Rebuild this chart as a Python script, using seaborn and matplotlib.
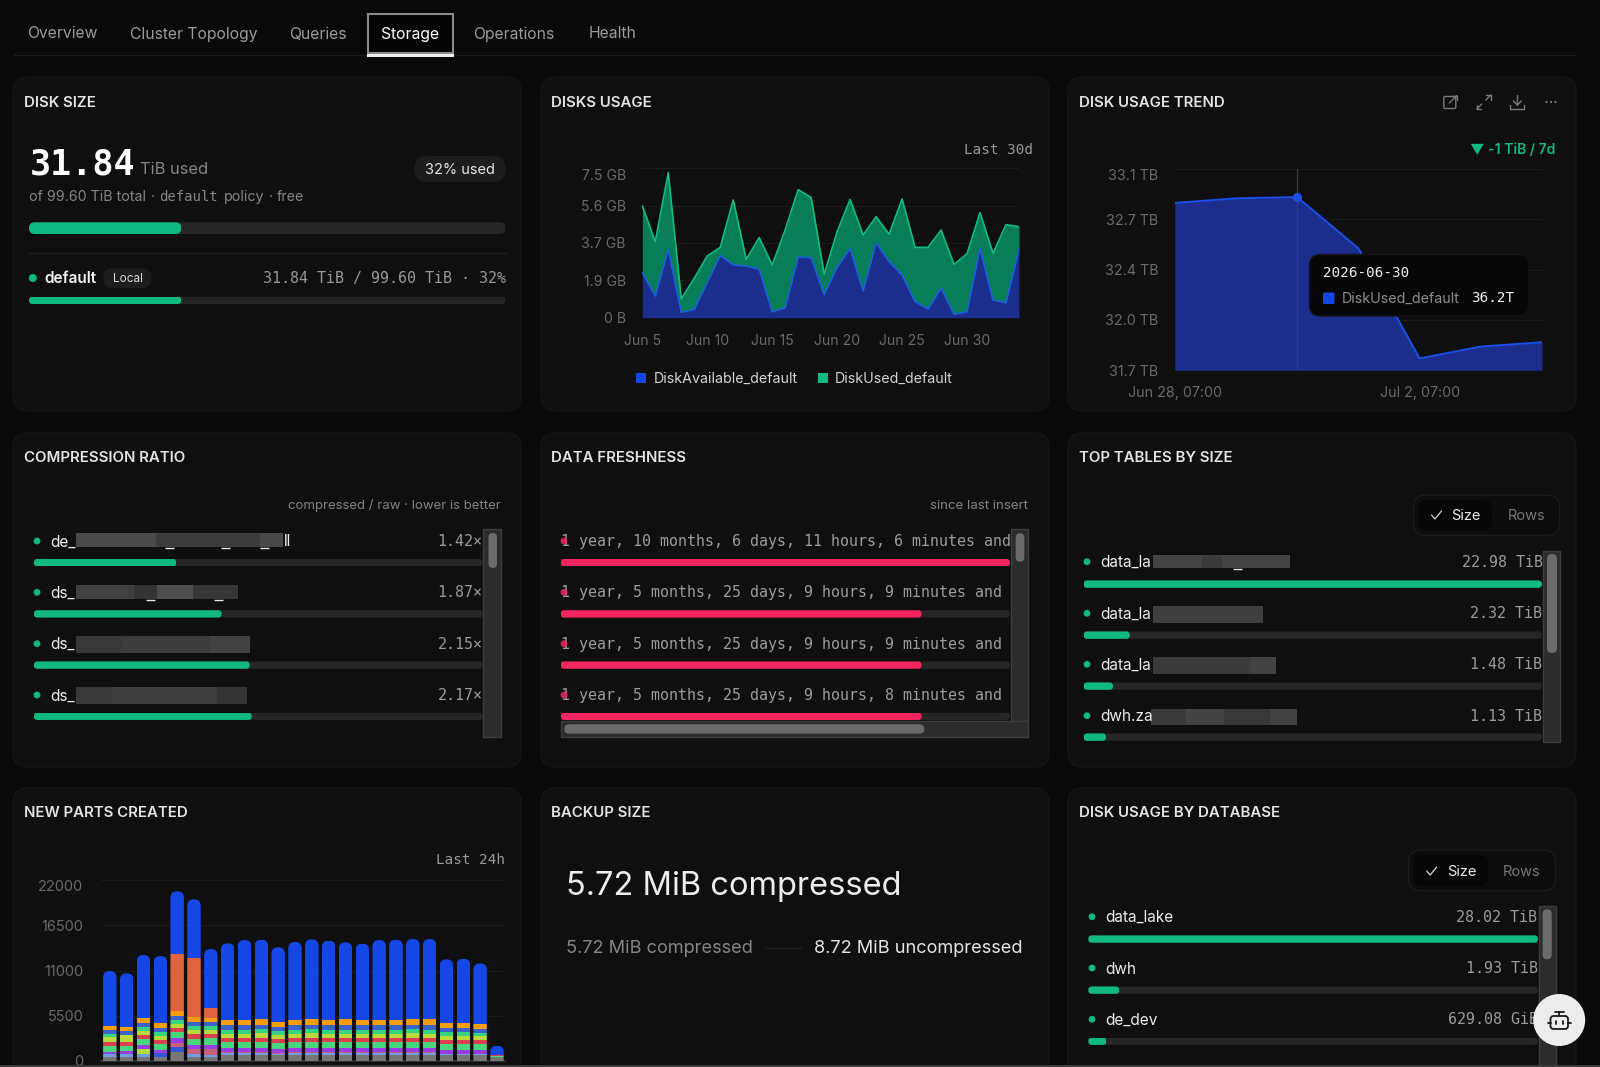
import matplotlib
matplotlib.use("Agg")
import matplotlib.pyplot as plt
from matplotlib.patches import FancyBboxPatch, Rectangle, Circle, Patch
from matplotlib.transforms import IdentityTransform, ScaledTranslation
import pandas as pd
import seaborn as sns

# ---------- data ----------
tabs = ["Overview", "Cluster Topology", "Queries", "Storage", "Operations", "Health"]

disk_available = [2.26, 1.09, 3.43, 0.27, 0.42, 1.77, 3.13, 2.65, 2.59, 2.44, 0.30, 0.50, 3.05, 3.01, 1.16,
                  2.53, 3.47, 1.34, 3.77, 2.81, 2.14, 0.80, 0.44, 1.49, 0.17, 0.30, 3.48, 0.89, 0.75, 3.43]
disk_used = [3.35, 2.73, 3.85, 0.67, 1.56, 1.33, 0.40, 3.26, 0.34, 1.58, 2.35, 3.90, 3.38, 3.02, 1.02,
             1.79, 2.47, 2.81, 1.30, 1.38, 3.82, 2.73, 3.09, 2.91, 2.51, 2.91, 1.79, 2.34, 3.92, 1.14]
usage_ticks = [0, 1.875, 3.75, 5.625, 7.5]
usage_ticklabels = ["0 B", "1.9 GB", "3.7 GB", "5.6 GB", "7.5 GB"]
usage_xlabels = ["Jun 5", "Jun 10", "Jun 15", "Jun 20", "Jun 25", "Jun 30"]

trend_tb = [32.864, 32.896, 32.905, 32.548, 31.783, 31.865, 31.895]
trend_ticks = [31.7, 32.05, 32.4, 32.75, 33.1]
trend_ticklabels = ["31.7 TB", "32.0 TB", "32.4 TB", "32.7 TB", "33.1 TB"]

disk_used_tib, disk_total_tib = 31.84, 99.60

compression_ratio = [1.42, 1.87, 2.15, 2.17]
compression_labels = ["1.42×", "1.87×", "2.15×", "2.17×"]
compression_names = ["de_", "ds_", "ds_", "ds_"]

freshness_days = [676, 543, 543, 543]
freshness_labels = ["1 year, 10 months, 6 days, 11 hours, 6 minutes and",
                    "1 year, 5 months, 25 days, 9 hours, 9 minutes and",
                    "1 year, 5 months, 25 days, 9 hours, 9 minutes and",
                    "1 year, 5 months, 25 days, 9 hours, 8 minutes and"]

table_tib = [22.98, 2.32, 1.48, 1.13]
table_labels = ["22.98 TiB", "2.32 TiB", "1.48 TiB", "1.13 TiB"]
table_names = ["data_la", "data_la", "data_la", "dwh.za"]

db_tib = [28.02, 1.93, 1.13]
db_labels = ["28.02 TiB", "1.93 TiB", "629.08 GiB"]
db_names = ["data_lake", "dwh", "de_dev"]

hours = [f"{h:02d}" for h in range(24)]
parts_gray = [490, 490, 490, 490, 1050, 490, 490, 730, 730, 730, 700, 730, 730, 730, 730, 730, 730, 730, 730, 730, 650, 650, 650, 410]
parts_light = [330, 330, 330, 0, 0, 360, 160, 160, 160, 160, 160, 160, 160, 160, 160, 160, 160, 160, 160, 160, 120, 120, 120, 0]
parts_mid = [0, 0, 0, 450, 650, 0, 0, 0, 0, 0, 0, 0, 0, 0, 0, 0, 0, 0, 0, 0, 0, 0, 0, 0]
parts_pink = [0, 0, 0, 0, 410, 610, 730, 120, 120, 120, 120, 120, 120, 120, 120, 120, 120, 120, 120, 120, 80, 80, 80, 0]
parts_lime = [0, 0, 610, 0, 0, 0, 0, 0, 0, 0, 0, 0, 0, 0, 0, 0, 0, 0, 0, 0, 0, 0, 0, 0]
parts_violet = [280, 410, 530, 370, 610, 410, 530, 530, 530, 570, 490, 530, 570, 530, 530, 530, 530, 530, 570, 530, 490, 490, 490, 0]
parts_green_a = [730, 610, 690, 730, 730, 810, 810, 730, 730, 730, 690, 730, 730, 730, 730, 730, 730, 730, 730, 730, 690, 690, 650, 160]
parts_red = [490, 410, 530, 490, 490, 530, 530, 490, 490, 490, 490, 490, 490, 490, 490, 490, 490, 490, 490, 490, 490, 490, 490, 80]
parts_yellow = [570, 940, 490, 450, 530, 490, 490, 530, 530, 530, 530, 530, 530, 530, 530, 530, 530, 530, 530, 530, 490, 530, 490, 0]
parts_green_b = [330, 0, 490, 490, 490, 530, 530, 490, 490, 490, 490, 490, 490, 490, 490, 490, 490, 490, 490, 490, 450, 450, 450, 0]
parts_slate = [490, 490, 450, 530, 530, 490, 450, 530, 530, 530, 490, 530, 530, 530, 530, 530, 530, 530, 530, 530, 490, 490, 490, 0]
parts_orange = [530, 450, 610, 610, 570, 570, 530, 650, 650, 690, 610, 650, 690, 690, 730, 690, 690, 690, 730, 730, 610, 610, 570, 0]
parts_salmon = [0, 0, 0, 0, 6910, 7280, 1140, 0, 0, 0, 0, 0, 0, 0, 0, 0, 0, 0, 0, 0, 0, 0, 0, 0]
parts_blue = [6700, 6525, 7670, 8160, 7690, 7110, 7230, 9350, 9760, 9720, 9060, 9520, 9760, 9640, 9400, 9280, 9720, 9760, 9760, 9800, 7800, 7840, 7390, 1180]
parts_ticks = [0, 5500, 11000, 16500, 22000]
parts_series = [
    (parts_gray, "#767676"), (parts_light, "#6f9fe0"), (parts_mid, "#3557d6"), (parts_pink, "#c9607c"),
    (parts_lime, "#b5dc3c"), (parts_violet, "#9a3de2"), (parts_green_a, "#49d67c"), (parts_red, "#dc3f52"),
    (parts_yellow, "#b9da3c"), (parts_green_b, "#35d481"), (parts_slate, "#3b63c9"), (parts_orange, "#f59e0b"),
    (parts_salmon, "#e0633f"), (parts_blue, "#1447e6"),
]

# ---------- style ----------
W, H = 1600, 1067
PAGE, CARD, EDGE = "#09090a", "#0f0f10", "#151516"
GREEN, RED_BAR, TRACK = "#0fb981", "#f4255e", "#262626"
AXIS, GRID = "#6a6a6a", "#1b1b1b"
MONO = "DejaVu Sans Mono"

sns.set_theme(style="dark", rc={"axes.facecolor": "none", "figure.facecolor": PAGE})
plt.rcParams["font.family"] = ["Inter", "DejaVu Sans"]

fig = plt.figure(figsize=(16, 10.67), dpi=100, facecolor=PAGE)


def px(v):
    return v * 0.72


def axes_px(x0, y0, x1, y1, z=1):
    a = fig.add_axes([x0 / W, 1 - y1 / H, (x1 - x0) / W, (y1 - y0) / H], zorder=z)
    a.patch.set_alpha(0)
    return a


def overlay(z):
    a = fig.add_axes([0, 0, 1, 1], zorder=z)
    a.set_xlim(0, W)
    a.set_ylim(H, 0)
    a.axis("off")
    return a


bg = overlay(0)
fg = overlay(5)


def rrect(ax, x0, y0, x1, y1, r, fc, ec="none", lw=0, z=2):
    ax.add_patch(FancyBboxPatch((x0, y0), x1 - x0, y1 - y0, boxstyle=f"round,pad=0,rounding_size={r}",
                                fc=fc, ec=ec, lw=lw, zorder=z))


def txt(ax, x, y, s, size=14, color="#e6e6e6", ha="left", va="center", family=None, weight="normal", z=6):
    kw = {"family": family} if family else {}
    return ax.text(x, y + 1, s, fontsize=px(size), color=color, ha=ha, va=va, fontweight=weight, zorder=z, **kw)


def round_clip(patch, r):
    bb = patch.get_window_extent()
    clip = FancyBboxPatch((bb.x0, bb.y0), bb.width, bb.height, boxstyle=f"round,pad=0,rounding_size={r}",
                          transform=IdentityTransform())
    patch.set_clip_path(clip)


def bar_list(x0, x1, centers, height, values, vmax, color):
    step = centers[1] - centers[0]
    n = len(values)
    ax = axes_px(x0, centers[0] - step / 2, x1, centers[-1] + step / 2, z=2)
    sns.barplot(x=[vmax] * n, y=list(range(n)), orient="h", color=TRACK, saturation=1, width=height / step,
                errorbar=None, linewidth=0, ax=ax)
    sns.barplot(x=values, y=list(range(n)), orient="h", color=color, saturation=1, width=height / step,
                errorbar=None, linewidth=0, ax=ax)
    ax.set_xlim(0, vmax)
    ax.set_ylim(n - 0.5, -0.5)
    ax.axis("off")
    for p in ax.patches:
        round_clip(p, height / 2)
    return ax


def single_bar(x0, y0, x1, y1, value, vmax, color):
    ax = axes_px(x0, y0, x1, y1, z=2)
    sns.barplot(x=[vmax], y=[0], orient="h", color=TRACK, saturation=1, width=1, errorbar=None, linewidth=0, ax=ax)
    sns.barplot(x=[value], y=[0], orient="h", color=color, saturation=1, width=1, errorbar=None, linewidth=0, ax=ax)
    ax.set_xlim(0, vmax)
    ax.set_ylim(0.5, -0.5)
    ax.axis("off")
    for p in ax.patches:
        round_clip(p, (y1 - y0) / 2)
    return ax


def scrollbar(x0, y0, x1, y1):
    fg.add_patch(Rectangle((x0, y0), x1 - x0, y1 - y0, fc="#2c2c2c", ec="#3d3d3d", lw=1, zorder=3))


def thumb(x0, y0, x1, y1):
    r = min(x1 - x0, y1 - y0) / 2
    rrect(fg, x0, y0, x1, y1, r, "#6b6b6b", z=4)


def blur(pieces, y0, y1):
    for a, b, c in pieces:
        fg.add_patch(Rectangle((a, y0), b - a, y1 - y0, fc=c, ec="none", zorder=3))


def dash(x0, x1, y):
    fg.plot([x0, x1], [y, y], color="#e6e6e6", lw=1, zorder=4, solid_capstyle="butt")


# ---------- page chrome ----------
tab_x = [27.5, 130.5, 289.5, 381, 473, 589]
for name, x in zip(tabs, tab_x):
    txt(bg, x, 33, name, size=15.7, color="#ffffff" if name == "Storage" else "#9b9b9b", weight="normal")
bg.plot([13.5, 1576], [55, 55], color="#1d1d1d", lw=1)
bg.add_patch(Rectangle((368, 14), 85, 38.5, fc="#050505", ec="#8a8a8a", lw=1.5, zorder=1))
bg.add_patch(Rectangle((367, 54), 87, 3, fc="#f0f0f0", ec="none", zorder=3))

card_x = [(13, 521), (541, 1049), (1068, 1576)]
card_y = [(77, 411), (433, 767), (788, 1100)]
for (y0, y1) in card_y:
    for (x0, x1) in card_x:
        rrect(bg, x0, y0, x1, y1, 15, CARD, ec=EDGE, lw=1, z=0)

titles = [["DISK SIZE", "DISKS USAGE", "DISK USAGE TREND"],
          ["COMPRESSION RATIO", "DATA FRESHNESS", "TOP TABLES BY SIZE"],
          ["NEW PARTS CREATED", "BACKUP SIZE", "DISK USAGE BY DATABASE"]]
title_x = [24.3, 551.2, 1079]
title_y = [102, 457, 812]
for row, ty in zip(titles, title_y):
    for t, tx in zip(row, title_x):
        txt(bg, tx, ty, t, size=15, color="#e4e4e4", weight="semibold")

# ---------- disk size ----------
bg.text(29.5, 174.5, "31.84", fontsize=px(35), family=MONO, fontweight="bold", color="#ffffff", va="baseline", zorder=6)
bg.text(140.5, 174.5, "TiB used", fontsize=px(16.5), color="#858585", va="baseline", zorder=6)
rrect(bg, 414.5, 156, 505.5, 182, 13, "#1d1d1d")
txt(bg, 460, 169, "32% used", size=14.6, ha="center", color="#e4e4e4")
txt(bg, 29, 196, "of 99.60 TiB total", size=14.3, color="#858585")
txt(bg, 150.5, 196, "·", size=14, color="#858585")
txt(bg, 159.5, 196, "default", size=14, color="#858585", family=MONO)
txt(bg, 223.5, 196, "policy", size=14.3, color="#858585")
txt(bg, 268.5, 196, "·", size=14, color="#858585")
txt(bg, 276.5, 196, "free", size=14.3, color="#858585")
single_bar(29, 222.3, 505.5, 234, disk_used_tib, disk_total_tib, GREEN)
bg.plot([29, 506], [253.3, 253.3], color="#222222", lw=1)
bg.add_patch(Circle((32.8, 278), 4, fc=GREEN, ec="none", zorder=3))
txt(bg, 44.4, 277.5, "default", size=15.4, color="#f0f0f0", weight="semibold")
rrect(bg, 103.5, 268.3, 151.5, 288, 9, "#1d1d1d")
txt(bg, 127.5, 277.5, "Local", size=11.8, ha="center", color="#d8d8d8")
txt(bg, 506, 277.5, "31.84 TiB / 99.60 TiB · 32%", size=15, ha="right", color="#9a9a9a", family=MONO)
single_bar(29, 296.7, 505.5, 304, disk_used_tib, disk_total_tib, GREEN)

# ---------- disks usage ----------
ax_u = axes_px(642.3, 168.3, 1019, 317.7)
usage_days = pd.date_range("2026-06-05", periods=len(disk_used))
usage_total = [a + b for a, b in zip(disk_available, disk_used)]
ax_u.fill_between(usage_days, 0, disk_available, color="#1b2e8e", lw=0, zorder=2)
ax_u.fill_between(usage_days, disk_available, usage_total, color="#077d58", lw=0, zorder=2)
sns.lineplot(x=usage_days, y=disk_available, color="#1d5fe0", lw=1.2, errorbar=None, ax=ax_u, zorder=3)
sns.lineplot(x=usage_days, y=usage_total, color="#12bd85", lw=1.2, errorbar=None, ax=ax_u, zorder=4)
ax_u.set_xlim(usage_days[0], usage_days[-1])
ax_u.set_ylim(0, 7.5)
ax_u.set_yticks(usage_ticks, usage_ticklabels)
ax_u.set_xticks(usage_days[::5], usage_xlabels)
ax_u.set_xlabel("")
ax_u.set_ylabel("")
ax_u.grid(axis="y", color=GRID, lw=0.8)
ax_u.grid(axis="x", visible=False)
ax_u.tick_params(axis="y", length=0, pad=12, labelsize=px(14), labelcolor=AXIS)
ax_u.tick_params(axis="x", length=0, pad=11.5, labelsize=px(14), labelcolor=AXIS)
top_label = ax_u.get_yticklabels()[-1]
top_label.set_transform(top_label.get_transform() + ScaledTranslation(0, -6.5 / 100, fig.dpi_scale_trans))
sns.despine(ax=ax_u, left=True, bottom=True)
ax_u.legend(handles=[Patch(fc="#1447e6", ec="none", label="DiskAvailable_default"),
                     Patch(fc=GREEN, ec="none", label="DiskUsed_default")],
            loc="center", bbox_to_anchor=(794.5 / W, 1 - 379 / H), bbox_transform=fig.transFigure, ncol=2,
            frameon=False, fontsize=px(14.3), labelcolor="#d4d4d4", handlelength=0.7, handleheight=0.7,
            handletextpad=0.5, columnspacing=1.4, borderpad=0)
txt(bg, 1033, 148.5, "Last 30d", size=14.2, ha="right", color="#9a9a9a", family=MONO)

# ---------- disk usage trend ----------
ax_t = axes_px(1174.8, 169, 1542, 370.3)
trend_days = pd.date_range("2026-06-28 07:00", periods=len(trend_tb))
ax_t.fill_between(trend_days, 31.7, trend_tb, color="#1b2e8e", lw=0, zorder=2)
sns.lineplot(x=trend_days, y=trend_tb, color="#1a4fe8", lw=1.4, errorbar=None, ax=ax_t, zorder=3)
ax_t.axvline(trend_days[2], color="#33415f", lw=0.8, zorder=3)
sns.scatterplot(x=[trend_days[2]], y=[trend_tb[2]], color="#1a4fe8", s=45, linewidth=0, ax=ax_t, zorder=4)
ax_t.set_xlim(trend_days[0], trend_days[-1])
ax_t.set_ylim(31.7, 33.1)
ax_t.set_yticks(trend_ticks, trend_ticklabels)
ax_t.set_xticks([trend_days[0], trend_days[4]], ["Jun 28, 07:00", "Jul 2, 07:00"])
ax_t.set_xlabel("")
ax_t.set_ylabel("")
ax_t.grid(axis="y", color=GRID, lw=0.8)
ax_t.grid(axis="x", visible=False)
ax_t.tick_params(axis="y", length=0, pad=12, labelsize=px(14.3), labelcolor=AXIS)
ax_t.tick_params(axis="x", length=0, pad=11.5, labelsize=px(14.3), labelcolor=AXIS)
ax_t.get_yticklabels()[-1].set_va("top")
sns.despine(ax=ax_t, left=True, bottom=True)
txt(bg, 1555, 149.5, "▼ -1 TiB / 7d", size=14, ha="right", color=GREEN, weight="semibold")

# tooltip
rrect(fg, 1309.5, 254.5, 1529, 316, 11, "#070707", ec="#141414", lw=1, z=3)
txt(fg, 1323, 272, "2026-06-30", size=14.3, color="#f0f0f0", family=MONO)
rrect(fg, 1323, 292.5, 1334.5, 304, 1.5, "#1447e6", z=4)
txt(fg, 1342, 298, "DiskUsed_default", size=14.3, color="#8e8e8e")
txt(fg, 1471, 297.5, "36.2T", size=14.3, color="#f0f0f0", family=MONO)

# header icons
ic = dict(color="#7a7a7a", lw=1, zorder=6, solid_capstyle="round")
cx, cy = 1450.3, 102
fg.add_patch(FancyBboxPatch((cx - 6.5, cy - 5.5), 12, 12, boxstyle="round,pad=0,rounding_size=1.5", fc="none", ec="#7a7a7a", lw=1, zorder=6))
fg.plot([cx - 1, cx + 6.5], [cy + 1, cy - 6.5], **ic)
fg.plot([cx + 2, cx + 6.5, cx + 6.5], [cy - 6.5, cy - 6.5, cy - 2], **ic)
cx = 1483.8
fg.plot([cx - 7, cx - 2], [cy + 7, cy + 2], **ic)
fg.plot([cx + 2, cx + 7], [cy - 2, cy - 7], **ic)
fg.plot([cx - 7, cx - 7, cx - 2.5], [cy + 2.5, cy + 7, cy + 7], **ic)
fg.plot([cx + 2.5, cx + 7, cx + 7], [cy - 7, cy - 7, cy - 2.5], **ic)
cx = 1517.3
fg.plot([cx, cx], [cy - 7, cy + 3], **ic)
fg.plot([cx - 4, cx, cx + 4], [cy - 1, cy + 3, cy - 1], **ic)
fg.plot([cx - 7, cx - 7, cx + 7, cx + 7], [cy + 3, cy + 7, cy + 7, cy + 3], **ic)
for dx in (-4.5, 0, 4.5):
    fg.add_patch(Circle((1551 + dx, cy), 1.1, fc="#7a7a7a", ec="none", zorder=6))

# ---------- compression ratio ----------
txt(bg, 501, 505, "compressed / raw · lower is better", size=13.2, ha="right", color="#828282")
row_text = [541, 592.3, 643.7, 695]
row_bar = [562.7, 614, 665.3, 716.3]
bar_list(33.8, 482.8, row_bar, 7.3, compression_ratio, 4.47, GREEN)
for name, label, y in zip(compression_names, compression_labels, row_text):
    bg.add_patch(Circle((37, y), 3.4, fc=GREEN, ec="none", zorder=3))
    txt(fg, 50.4, y, name, size=15.4, color="#ececec")
    txt(fg, 482.4, y - 0.5, label, size=15, ha="right", color="#9c9c9c", family=MONO)
blur([(76.4, 156, "#4a4a4a"), (156, 260, "#3c3c3c"), (260, 283.3, "#484848")], 533.3, 547.3)
txt(fg, 284, 541, "ll", size=15.4, color="#ececec")
for a, b in [(165, 174), (221, 230), (260, 269)]:
    dash(a, b, 548)
blur([(76.4, 134, "#404040"), (134, 156.5, "#343434"), (156.5, 193.4, "#4d4d4d"), (193.4, 237.5, "#363636")], 585, 599)
for a, b in [(145.5, 155), (213.5, 222.5)]:
    dash(a, b, 599.5)
blur([(76, 121, "#383838"), (121, 210, "#3c3c3c"), (210, 250, "#424242")], 636, 652.7)
blur([(76, 112, "#383838"), (112, 217, "#3e3e3e"), (217, 247, "#333333")], 687.3, 704)
scrollbar(483.4, 529, 500.7, 737)
thumb(488.5, 533, 497, 568)

# ---------- data freshness ----------
txt(bg, 1027.7, 505, "since last insert", size=13.3, ha="right", color="#828282")
bar_list(560.7, 1010, row_bar, 7.3, freshness_days, 676, RED_BAR)
for label, y in zip(freshness_labels, row_text):
    txt(fg, 561, y - 0.5, label, size=14.98, color="#9c9c9c", family=MONO)
    fg.add_patch(Circle((564, y), 3.4, fc=RED_BAR, ec="none", alpha=0.85, zorder=7))
scrollbar(1010.7, 529, 1028.3, 720.7)
scrollbar(560.7, 720.7, 1028.3, 737.3)
thumb(1015.7, 533.3, 1024.3, 561.7)
thumb(564.3, 724.3, 924.3, 733.7)

# ---------- top tables ----------
def toggle(x0, y0, x1, y1, ax1, cy):
    rrect(bg, x0, y0, x1, y1, 12, "#0c0c0d", ec="#1b1b1c", lw=1)
    rrect(bg, x0 + 5, y0 + 5, ax1, y1 - 5, 8, "#060606", z=3)
    ck = x0 + 23
    bg.plot([ck - 5, ck - 1.5, ck + 5], [cy, cy + 4, cy - 4], color="#d8d8d8", lw=0.9, zorder=4)
    txt(bg, x0 + 38, cy, "Size", size=14.6, color="#ececec")
    txt(bg, x0 + 94.5, cy, "Rows", size=14.6, color="#767676")


toggle(1413.5, 495.3, 1559.5, 535.3, 1492, 515)
bar_list(1083.5, 1542, [584, 634.7, 686.3, 737.3], 7.3, table_tib, table_tib[0], GREEN)
table_y = [561.7, 613.3, 664.3, 715.7]
for name, label, y in zip(table_names, table_labels, table_y):
    bg.add_patch(Circle((1087, y), 3.4, fc=GREEN, ec="none", zorder=3))
    txt(fg, 1100.5, y, name, size=15.4, color="#ececec")
    txt(fg, 1542.5, y - 0.5, label, size=15, ha="right", color="#9c9c9c", family=MONO)
blur([(1153, 1202, "#444444"), (1202, 1222, "#3a3a3a"), (1222, 1290, "#444444")], 554.7, 568.3)
dash(1233, 1242, 569)
blur([(1153, 1263.4, "#3f3f3f")], 606, 622.7)
blur([(1153, 1250, "#3a3a3a"), (1250, 1275.5, "#424242")], 657.3, 674)
blur([(1151, 1186, "#3a3a3a"), (1186, 1224, "#434343"), (1224, 1270, "#383838"), (1270, 1296.5, "#424242")], 708.7, 725)
scrollbar(1542.6, 550.7, 1560, 742)
thumb(1547, 554, 1557, 653)

# ---------- new parts created ----------
ax_p = axes_px(101.4, 880.3, 505.4, 1060.7)
running = [0] * len(hours)
for values, color in parts_series:
    sns.barplot(x=hours, y=values, bottom=running, color=color, saturation=1, width=0.8, errorbar=None,
                linewidth=0, ax=ax_p, zorder=3)
    running = [a + b for a, b in zip(running, values)]
ax_p.set_xlim(-0.5, 23.5)
ax_p.set_ylim(0, 22000)
ax_p.set_yticks(parts_ticks, [str(v) for v in parts_ticks])
ax_p.set_xticks([])
ax_p.set_xlabel("")
ax_p.set_ylabel("")
ax_p.grid(axis="y", color=GRID, lw=0.8)
ax_p.grid(axis="x", visible=False)
ax_p.set_axisbelow(True)
ax_p.tick_params(axis="y", length=0, pad=13, labelsize=px(14.5), labelcolor=AXIS)
ax_p.get_yticklabels()[-1].set_va("top")
sns.despine(ax=ax_p, left=True)
ax_p.spines["bottom"].set_color("#333333")
fig.canvas.draw()
for i in range(len(hours)):
    first = ax_p.containers[0][i]
    bb = first.get_window_extent()
    top = ax_p.transData.transform((0, running[i]))[1]
    clip = FancyBboxPatch((bb.x0, bb.y0 - 20), bb.width, top - bb.y0 + 20, boxstyle="round,pad=0,rounding_size=6.5",
                          transform=IdentityTransform())
    for cont in ax_p.containers:
        cont[i].set_clip_path(clip)
txt(bg, 505.4, 858.5, "Last 24h", size=14.2, ha="right", color="#9a9a9a", family=MONO)

# ---------- backup size ----------
txt(bg, 566, 885, "5.72 MiB compressed", size=32.6, color="#ededed")
txt(bg, 566, 947.5, "5.72 MiB compressed", size=18.2, color="#858585")
bg.plot([765, 801], [948, 948], color="#202020", lw=1)
txt(bg, 814, 947.5, "8.72 MiB uncompressed", size=18.2, color="#e4e4e4")

# ---------- disk usage by database ----------
toggle(1408.7, 850, 1555.5, 890.7, 1488, 871)
bar_list(1088.3, 1538, [939, 990, 1041.3], 7.3, db_tib, db_tib[0], GREEN)
for name, label, y in zip(db_names, db_labels, [916.7, 968, 1019.3]):
    bg.add_patch(Circle((1092, y), 3.4, fc=GREEN, ec="none", zorder=3))
    txt(fg, 1105.3, y, name, size=15.4, color="#ececec")
    txt(fg, 1537.5, y - 0.5, label, size=15, ha="right", color="#9c9c9c", family=MONO)
scrollbar(1538.6, 906, 1555.5, 1075)
thumb(1542.6, 909.3, 1551.7, 959.3)

# chat button
fg.add_patch(Circle((1559.2, 1020), 26, fc="#ececec", ec="none", zorder=8))
rrect(fg, 1550.5, 1016, 1568, 1029, 3, "none", ec="#1a1a1a", lw=1.3, z=9)
fg.plot([1559.2, 1559.2], [1012, 1016], color="#1a1a1a", lw=1.3, zorder=9)
fg.plot([1555, 1563.5], [1012, 1012], color="#1a1a1a", lw=1.3, zorder=9)
fg.plot([1547.5, 1550.5], [1022.5, 1022.5], color="#1a1a1a", lw=1.3, zorder=9)
fg.plot([1568, 1571], [1022.5, 1022.5], color="#1a1a1a", lw=1.3, zorder=9)
fg.plot([1556, 1556], [1021, 1024], color="#1a1a1a", lw=1.3, zorder=9)
fg.plot([1562.5, 1562.5], [1021, 1024], color="#1a1a1a", lw=1.3, zorder=9)

# bottom edge
fg.add_patch(Rectangle((0, 1065), W, 2, fc="#3a3a3a", ec="none", zorder=7))

fig.savefig("out.png", dpi=100, facecolor=PAGE)
